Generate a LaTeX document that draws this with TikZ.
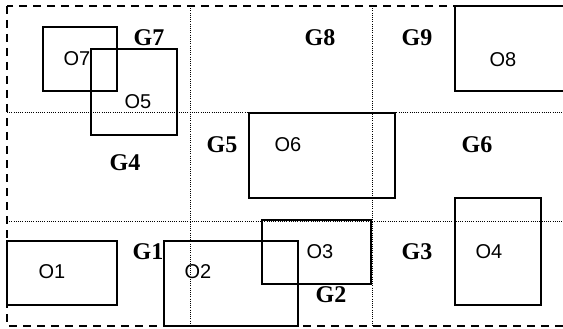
\documentclass[tikz,border=0pt]{standalone}
\usepackage{fontspec}
\setmainfont{Liberation Serif}
\newfontfamily\objfont{Liberation Sans}
\usetikzlibrary{positioning}

\begin{document}
\begin{tikzpicture}[x=1pt,y=-1pt,
  frame/.style={dash pattern=on 8pt off 6pt,line width=1.2pt},
  gridline/.style={dash pattern=on 1pt off 1.2pt,line width=1pt},
  obj/.style={line width=1.3pt},
  olabel/.style={font=\objfont\fontsize{20}{20}\selectfont,inner sep=0pt},
  glabel/.style={font=\bfseries\fontsize{24}{24}\selectfont,inner sep=0pt}]
  \useasboundingbox (0,0) rectangle (563,329);
  \clip (0,0) rectangle (563,329);
  \fill[white] (0,0) rectangle (563,329);
  % outer frame
  \draw[frame] (7,6) rectangle (600,326);
  % grid cells
  \draw[gridline] (190,6) -- (190,326);
  \draw[gridline] (372,6) -- (372,326);
  \draw[gridline] (7,113) -- (563,113);
  \draw[gridline] (7,221) -- (563,221);
  % objects
  \draw[obj] (43,27) rectangle (117,91);
  \draw[obj] (91,49) rectangle (177,135);
  \draw[obj] (249,113) rectangle (395,198);
  \draw[obj] (455,6) rectangle (600,91);
  \draw[obj] (7,241) rectangle (117,305);
  \draw[obj] (164,241) rectangle (298,326);
  \draw[obj] (262,220) rectangle (371,284);
  \draw[obj] (455,198) rectangle (541,305);
  \node[olabel] (o1) at (52,272) {O1};
  \node[olabel] (o2) at (198,272) {O2};
  \node[olabel] (o3) at (320,252) {O3};
  \node[olabel] (o4) at (489,252) {O4};
  \node[olabel] (o5) at (138,102) {O5};
  \node[olabel] (o6) at (288,145) {O6};
  \node[olabel] (o7) at (77,59) {O7};
  \node[olabel] (o8) at (503,60) {O8};
  % cell names
  \node[glabel] (g1) at (148,252) {G1};
  \node[glabel] (g2) at (331,295) {G2};
  \node[glabel] (g3) at (417,252) {G3};
  \node[glabel] (g4) at (125,163) {G4};
  \node[glabel] (g5) at (222,145) {G5};
  \node[glabel] (g6) at (477,145) {G6};
  \node[glabel] (g7) at (149,38) {G7};
  \node[glabel] (g8) at (320,38) {G8};
  \node[glabel] (g9) at (417,38) {G9};
\end{tikzpicture}
\end{document}
